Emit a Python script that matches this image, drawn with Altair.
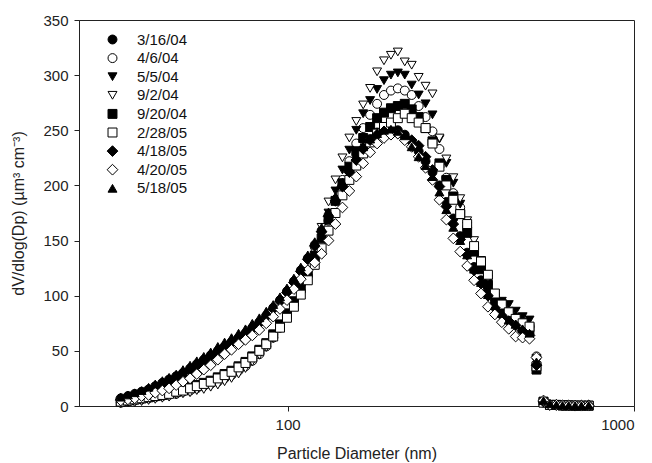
import altair as alt
import pandas as pd

diameters = [33.0, 34.6, 36.2, 37.9, 39.7, 41.5, 43.5, 45.5, 47.7, 49.9,
             52.3, 54.7, 57.3, 60.0, 62.9, 65.8, 68.9, 72.2, 75.6, 79.1,
             82.9, 86.8, 90.9, 95.1, 99.6, 104.3, 109.2, 114.4, 119.8, 125.4,
             131.3, 137.5, 144.0, 150.8, 157.9, 165.3, 173.1, 181.3, 189.8, 198.8,
             208.1, 217.9, 228.2, 239.0, 250.2, 262.0, 274.4, 287.3, 300.9, 315.0,
             329.9, 345.4, 361.7, 378.8, 396.6, 415.3, 434.9, 455.4, 476.9, 499.3,
             523.0, 548.0, 572.0, 597.0, 622.0, 648.0, 676.0, 705.0, 740.0]

s_3_16_04 = [7, 9, 11, 13, 15, 18, 21, 24, 27, 30,
             34, 38, 42, 46, 50, 54, 58, 62, 66, 71,
             76, 82, 89, 96, 104, 113, 123, 134, 146, 159,
             173, 187, 200, 213, 224, 234, 242, 248, 251, 252,
             250, 246, 240, 231, 222, 212, 200, 185, 170, 154,
             139, 126, 114, 104, 93, 86, 80, 75, 70, 66,
             38, 4, 1, 1, 0.5, 0.5, 0.3, 0.3, 0.5]
s_4_6_04 = [3, 4, 5, 6, 7, 8, 9, 10, 11, 13,
            14, 16, 18, 20, 22, 25, 28, 32, 36, 41,
            47, 54, 62, 71, 81, 92, 104, 118, 133, 150,
            168, 187, 205, 222, 238, 252, 264, 274, 282, 286,
            288, 286, 282, 272, 262, 249, 233, 207, 193, 180,
            162, 144, 126, 111, 100, 91, 85, 80, 76, 72,
            45, 3, 1, 1, 0.5, 0.5, 0.5, 0.3, 0.3]
s_5_5_04 = [3, 4, 5, 6, 7, 8, 9, 10, 12, 13,
            15, 17, 19, 21, 23, 26, 29, 33, 38, 43,
            49, 56, 64, 73, 83, 94, 107, 121, 137, 155,
            175, 195, 214, 232, 250, 265, 277, 287, 295, 300,
            302, 300, 291, 282, 274, 264, 242, 220, 202, 183,
            163, 144, 126, 112, 101, 95, 92, 86, 81, 78,
            40, 4, 1, 1, 0.5, 0.5, 0.3, 0.3, 0.3]
s_9_2_04 = [2, 3, 3, 4, 5, 6, 7, 8, 10, 11,
            12, 14, 15, 17, 19, 22, 25, 29, 34, 40,
            46, 53, 61, 70, 80, 92, 106, 122, 140, 162,
            185, 205, 225, 243, 258, 273, 288, 303, 313, 318,
            321, 312, 309, 298, 290, 283, 243, 224, 207, 188,
            168, 150, 132, 115, 102, 93, 86, 80, 76, 72,
            43, 3, 1, 0.5, 0.5, 0.3, 0.3, 0.3, 0.3]
s_9_20_04 = [4, 5, 6, 7, 8, 9, 10, 12, 13, 15,
             17, 19, 21, 23, 26, 29, 32, 36, 40, 45,
             51, 57, 65, 74, 84, 95, 107, 121, 136, 152,
             169, 186, 202, 217, 231, 243, 253, 261, 266, 270,
             272, 274, 269, 262, 252, 240, 220, 205, 190, 174,
             157, 140, 124, 110, 99, 90, 84, 79, 75, 71,
             33, 4, 1, 1, 0.5, 0.5, 0.3, 0.3, 0.3]
s_2_28_05 = [4, 5, 6, 7, 8, 9, 10, 11, 13, 14,
             16, 18, 20, 22, 25, 28, 31, 35, 39, 44,
             50, 56, 63, 71, 80, 90, 101, 114, 128, 143,
             159, 175, 191, 205, 218, 229, 239, 247, 253, 257,
             261, 265, 261, 257, 252, 238, 217, 200, 187, 174,
             165, 145, 131, 119, 102, 92, 85, 79, 75, 72,
             36, 3, 1, 1, 0.5, 0.5, 0.3, 0.3, 0.3]
s_4_18_05 = [6, 8, 10, 12, 15, 17, 20, 23, 26, 30,
             33, 37, 41, 45, 49, 53, 57, 61, 65, 70,
             75, 81, 88, 95, 103, 112, 122, 133, 145, 158,
             172, 186, 199, 212, 223, 233, 241, 246, 249, 249,
             247, 244, 241, 236, 226, 214, 199, 181, 165, 151,
             137, 123, 111, 100, 89, 82, 77, 73, 68, 64,
             37, 4, 1, 1, 0.5, 0.5, 0.3, 0.3, 0.5]
s_4_20_05 = [5, 6, 7, 9, 10, 12, 14, 16, 19, 22,
             25, 29, 33, 37, 42, 47, 51, 56, 60, 64,
             69, 75, 81, 88, 96, 106, 115, 123, 130, 138,
             150, 165, 180, 195, 208, 220, 230, 238, 243, 246,
             247, 241, 235, 226, 216, 205, 187, 169, 152, 140,
             127, 114, 102, 90, 83, 76, 70, 63, 62, 61,
             44, 5, 1, 1, 0.5, 0.5, 0.3, 0.3, 0.3]
s_5_18_05 = [8, 10, 12, 14, 17, 20, 23, 26, 29, 33,
             37, 41, 45, 49, 54, 58, 62, 66, 70, 75,
             80, 86, 92, 99, 107, 116, 126, 137, 149, 162,
             176, 190, 203, 215, 226, 235, 242, 247, 250, 251,
             249, 245, 235, 226, 218, 208, 194, 178, 162, 150,
             137, 124, 112, 101, 91, 84, 78, 74, 70, 66,
             40, 5, 2, 1, 0.5, 0.5, 0.3, 0.3, 0.5]

series_names = ["3/16/04", "4/6/04", "5/5/04", "9/2/04", "9/20/04",
                "2/28/05", "4/18/05", "4/20/05", "5/18/05"]
series_values = [s_3_16_04, s_4_6_04, s_5_5_04, s_9_2_04, s_9_20_04,
                 s_2_28_05, s_4_18_05, s_4_20_05, s_5_18_05]
DIAMOND = "M-1.2,0L0,-1.2L1.2,0L0,1.2Z"
shapes = ["circle", "circle", "triangle-down", "triangle-down", "square",
          "square", DIAMOND, DIAMOND, "triangle-up"]
fills = ["black", "white", "black", "white", "black",
         "white", "black", "white", "black"]
strokes = ["black"] * 9

rows = []
k = 0
for name, vals in zip(series_names, series_values):
    for d, v in zip(diameters, vals):
        rows.append({"diameter": d, "value": v, "series": name, "idx": k})
        k += 1
df = pd.DataFrame(rows)

FONT = "Liberation Sans"
MSIZE = 80

legend_kw = dict(
    orient="none", legendX=26, legendY=12, title=None,
    labelFont=FONT, labelFontSize=15, labelColor="#111",
    symbolSize=MSIZE, symbolOpacity=1, symbolStrokeWidth=1,
    rowPadding=2.6, labelOffset=17, padding=0,
)

chart = alt.Chart(df).mark_point(
    filled=True, size=MSIZE, strokeWidth=1, opacity=1
).encode(
    x=alt.X("diameter:Q",
            scale=alt.Scale(type="log", domain=[25, 1000], nice=False),
            axis=alt.Axis(values=[100, 1000], format="d", grid=False,
                          title="Particle Diameter (nm)",
                          titleX=277.5, titleY=47, titleBaseline="middle",
                          titleAlign="center")),
    y=alt.Y("value:Q",
            scale=alt.Scale(domain=[0, 350], nice=False),
            axis=alt.Axis(values=[0, 50, 100, 150, 200, 250, 300, 350], grid=False,
                          title="dV/dlog(Dp) (µm³ cm⁻³)",
                          titleX=-61, titleY=193, titleBaseline="middle",
                          titleAlign="center", titleAngle=-90)),
    shape=alt.Shape("series:N", scale=alt.Scale(domain=series_names, range=shapes),
                    legend=alt.Legend(**legend_kw)),
    fill=alt.Fill("series:N", scale=alt.Scale(domain=series_names, range=fills),
                  legend=alt.Legend(**legend_kw)),
    stroke=alt.Stroke("series:N", scale=alt.Scale(domain=series_names, range=strokes),
                      legend=alt.Legend(**legend_kw)),
    order=alt.Order("idx:Q"),
).properties(
    width=555, height=386,
    background="white",
    autosize=alt.AutoSizeParams(type="none"),
    padding={"left": 79, "top": 20, "right": 18, "bottom": 57},
).configure_view(
    stroke="#222", strokeWidth=1
).configure_axis(
    domainColor="#222", tickColor="#222", tickSize=5, labelPadding=6,
    labelFont=FONT, labelFontSize=15, labelColor="#222",
    titleFont=FONT, titleFontSize=16, titleColor="#222", titleFontWeight="normal",
)

chart.save("out.html", embed_options={"renderer": "svg", "actions": False})
